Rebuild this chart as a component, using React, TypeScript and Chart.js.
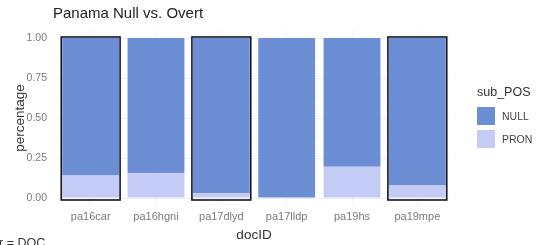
import React, { useEffect, useRef } from "react";
import { Chart, registerables } from "chart.js";

Chart.register(...registerables);

const categories = ["pa16car", "pa16hgni", "pa17dlyd", "pa17lldp", "pa19hs", "pa19mpe"];
const pronValues = [0.14, 0.155, 0.03, 0, 0.195, 0.078];
const nullValues = [0.86, 0.845, 0.97, 1, 0.805, 0.922];
const yTicks = [0, 0.25, 0.5, 0.75, 1];
const yMinorTicks = [0.125, 0.375, 0.625, 0.875];
const highlighted = ["pa16car", "pa17dlyd", "pa19mpe"];
const legendLabels = ["NULL", "PRON"];

const NULL_COLOR = "#6c8ed5";
const PRON_COLOR = "#c4cbf5";
const FONT = "'Liberation Sans', Arial, sans-serif";

const outlinePlugin = {
  id: "docOutline",
  afterDatasetsDraw(chart: any) {
    const { ctx } = chart;
    const meta = chart.getDatasetMeta(0);
    const y = chart.scales.y;
    const top = y.getPixelForValue(1);
    const bottom = y.getPixelForValue(0);
    ctx.save();
    ctx.strokeStyle = "#15151f";
    ctx.lineWidth = 1.6;
    highlighted.forEach((name) => {
      const i = categories.indexOf(name);
      const el = meta.data[i];
      if (!el) return;
      const w = el.width;
      ctx.strokeRect(el.x - w / 2 - 1, top - 1, w + 2, bottom - top + 3);
    });
    ctx.restore();
  },
};

function ChartCanvas() {
  const ref = useRef<HTMLCanvasElement>(null);
  useEffect(() => {
    if (!ref.current) return;
    const chart = new Chart(ref.current, {
      type: "bar",
      data: {
        labels: categories,
        datasets: [
          { label: "PRON", data: pronValues, backgroundColor: PRON_COLOR, borderWidth: 0 },
          { label: "NULL", data: nullValues, backgroundColor: NULL_COLOR, borderWidth: 0 },
        ],
      },
      options: {
        responsive: false,
        animation: false,
        events: [],
        layout: { padding: { top: 30, right: 102, left: 0, bottom: 0 } },
        datasets: { bar: { barPercentage: 0.87, categoryPercentage: 1 } },
        plugins: { legend: { display: false }, tooltip: { enabled: false }, title: { display: false } },
        scales: {
          x: {
            stacked: true,
            offset: true,
            border: { display: false },
            grid: { offset: false, drawTicks: false, color: "#f3f3f3" },
            ticks: { color: "#7a7a7a", padding: 4, font: { family: FONT, size: 11 } },
            title: {
              display: true,
              text: "docID",
              color: "#333333",
              font: { family: FONT, size: 13.5 },
              padding: { top: 0, bottom: 2 },
            },
            afterFit: (s: any) => {
              s.height = 39;
            },
          },
          y: {
            stacked: true,
            min: -0.05,
            max: 1.05,
            border: { display: false },
            grid: {
              drawTicks: false,
              color: (c: any) => (yTicks.includes(c.tick?.value) ? "#eeeeee" : "#f7f7f7"),
            },
            ticks: {
              color: "#7a7a7a",
              padding: 11,
              font: { family: FONT, size: 10.5 },
              callback: (v: any) => (yTicks.includes(Number(v)) ? Number(v).toFixed(2) : ""),
            },
            afterBuildTicks: (s: any) => {
              s.ticks = [...yTicks, ...yMinorTicks].sort((a, b) => a - b).map((v) => ({ value: v }));
            },
            title: {
              display: true,
              text: "percentage",
              color: "#333333",
              font: { family: FONT, size: 13.5 },
              padding: { top: 12, bottom: 0 },
            },
            afterFit: (s: any) => {
              s.width = 58;
            },
          },
        },
      },
      plugins: [outlinePlugin],
    });
    return () => chart.destroy();
  }, []);
  return <canvas ref={ref} width={552} height={245} style={{ width: 552, height: 245, display: "block" }} />;
}

export default function App() {
  const legendColors = [NULL_COLOR, PRON_COLOR];
  return (
    <div
      style={{
        position: "fixed",
        left: 0,
        top: 0,
        width: 552,
        height: 245,
        overflow: "hidden",
        background: "#ffffff",
        fontFamily: FONT,
      }}
    >
      <ChartCanvas />
      <div style={{ position: "absolute", left: 53, top: 4, fontSize: 15, lineHeight: "18px", color: "#222222", whiteSpace: "nowrap" }}>
        Panama Null vs. Overt
      </div>
      <div style={{ position: "absolute", left: 477, top: 85, fontSize: 12.5, lineHeight: "15px", color: "#333333" }}>
        sub_POS
      </div>
      {legendLabels.map((lab, i) => (
        <div
          key={lab}
          style={{ position: "absolute", left: 477, top: 107 + i * 22.5, height: 18, display: "flex", alignItems: "center" }}
        >
          <div style={{ width: 18, height: 18, background: legendColors[i] }} />
          <div style={{ marginLeft: 7, fontSize: 10.5, color: "#444444" }}>{lab}</div>
        </div>
      ))}
      <div style={{ position: "absolute", left: -1, top: 236, fontSize: 12.5, lineHeight: "15px", color: "#333333", whiteSpace: "nowrap" }}>
        r = DOC
      </div>
    </div>
  );
}
